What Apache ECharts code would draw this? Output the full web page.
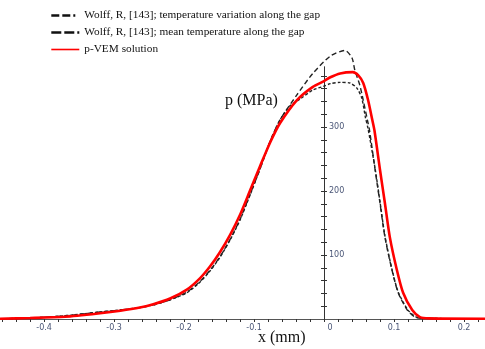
<!DOCTYPE html>
<html>
<head>
<meta charset="utf-8">
<script src="https://cdn.jsdelivr.net/npm/echarts@6/dist/echarts.min.js"></script>
<style>html,body{margin:0;padding:0;background:#fff}#c{width:485px;height:349px}</style>
</head>
<body>
<div id="c"></div>
<script>
// ---- data (x in mm, p in MPa) ----
const seriesNames = [
  'Wolff, R, [143]; temperature variation along the gap',
  'Wolff, R, [143]; mean temperature along the gap',
  'p-VEM solution'
];
const vemX = [-0.463,-0.42,-0.37,-0.32,-0.291,-0.263,-0.244,-0.22,-0.196,-0.177,-0.163,-0.149,-0.134,-0.12,-0.106,-0.091,-0.077,-0.063,-0.039,-0.016,0,0.009,0.023,0.041,0.049,0.056,0.063,0.069,0.072,0.08,0.087,0.094,0.104,0.113,0.126,0.137,0.15,0.23];
const vemP = [0.5,1.5,3.5,9,13,18,23,32,46,64,82,104,132,163,200,240,276,306,342,363,372,378,384,386,381,369,342,311,295,233,181,128,77,41,14,3,1,0.5];

const meanX = [-0.463,-0.42,-0.37,-0.32,-0.291,-0.263,-0.244,-0.22,-0.196,-0.177,-0.163,-0.149,-0.134,-0.12,-0.106,-0.091,-0.077,-0.063,-0.039,-0.016,0.009,0.03,0.04,0.044,0.051,0.056,0.062,0.065,0.073,0.08,0.087,0.097,0.106,0.119,0.13,0.145,0.23];
const meanP = [0.3,1.5,5,11,14,18,22,30,42,59,76,97,125,156,194,236,278,311,350,384,411,420,408,389,366,342,311,295,233,181,128,77,41,14,3,1,0.3];

const varX = [-0.463,-0.42,-0.37,-0.32,-0.291,-0.263,-0.244,-0.22,-0.196,-0.177,-0.163,-0.149,-0.134,-0.12,-0.106,-0.091,-0.077,-0.063,-0.049,-0.034,-0.016,0,0.009,0.023,0.037,0.047,0.054,0.059,0.063,0.073,0.08,0.087,0.097,0.106,0.12,0.132,0.146,0.23];
const varP = [0.3,1.5,5,11,14,18,22,30,41,58,75,96,124,155,193,236,278,311,333,344,358,364,368,370,369,361,345,316,297,235,183,130,78,42,14,3,1,0.3];

const xLabelValues = [-0.4,-0.3,-0.2,-0.1,0,0.1,0.2];
const yLabelValues = [100,200,300];

function zip(xs, ys){ return xs.map((x,i)=>[x, ys[i]]); }
const xTicks = []; for (let i=-23;i<=11;i++) xTicks.push(+(i*0.02).toFixed(2));
const yTicks = []; for (let v=20; v<=380; v+=20) yTicks.push(v);

const chart = echarts.init(document.getElementById('c'), null, {renderer:'canvas'});
const labelColor = '#4a5677';
const X_MIN = -0.463, X_MAX = 0.23, GRID_W = 485;
const yAxisOffset = -Math.round((0 - X_MIN) / (X_MAX - X_MIN) * GRID_W);
chart.setOption({
  animation:false,
  backgroundColor:'#fff',
  grid:{left:0,right:0,top:67,bottom:30,containLabel:false,outerBoundsMode:'none'},
  legend:{
    orient:'vertical', left:45, top:5, itemWidth:28, itemHeight:10, itemGap:6,
    itemStyle:{opacity:0},
    textStyle:{fontFamily:'Liberation Serif', fontSize:11.3, color:'#111'},
    data: [
      {name:seriesNames[0], lineStyle:{width:2.6, type:[8,3,8,3,2,10], color:'#111'}},
      {name:seriesNames[1], lineStyle:{width:2.6, type:[10,3], color:'#111'}},
      {name:seriesNames[2], lineStyle:{width:1.6, color:'#ff0000'}}
    ]
  },
  xAxis:{
    type:'value', min:X_MIN, max:X_MAX,
    axisLine:{onZero:false, lineStyle:{color:'#555', width:1}},
    axisTick:{show:true, length:3, customValues:xTicks, lineStyle:{color:'#333'}},
    axisLabel:{customValues:xLabelValues, color:labelColor, fontSize:8, fontFamily:'DejaVu Sans', margin:5,
      formatter:v=> Math.abs(v)<1e-9 ? '{z|0}' : v.toFixed(1),
      rich:{z:{padding:[0,0,0,12], fontSize:8, color:labelColor, fontFamily:'DejaVu Sans'}}},
    splitLine:{show:false}
  },
  yAxis:[{
    type:'value', min:0, max:394, position:'left', offset:yAxisOffset,
    axisLine:{onZero:false, lineStyle:{color:'#333', width:1}},
    axisTick:{show:true, inside:true, length:3, customValues:yTicks, lineStyle:{color:'#333'}},
    axisLabel:{inside:true, customValues:yLabelValues, color:labelColor, fontSize:8, fontFamily:'DejaVu Sans', margin:5},
    splitLine:{show:false}
  },{
    type:'value', min:0, max:394, position:'left', offset:yAxisOffset,
    axisLine:{onZero:false, lineStyle:{color:'#333', width:1}},
    axisTick:{show:true, inside:false, length:3, customValues:yTicks, lineStyle:{color:'#333'}},
    axisLabel:{show:false},
    splitLine:{show:false}
  }],
  graphic:[
    {type:'text', left:225, top:93, style:{text:'p (MPa)', font:'16px "Liberation Serif"', fill:'#111'}},
    {type:'text', left:258, top:330, style:{text:'x (mm)', font:'16px "Liberation Serif"', fill:'#111'}}
  ],
  series:[
    {name:seriesNames[0], type:'line', data:zip(varX,varP), symbol:'none', showSymbol:false, smooth:0.25, clip:false,
      itemStyle:{color:'#222'}, lineStyle:{color:'#222', width:1.4, type:[3,2]}, z:3},
    {name:seriesNames[1], type:'line', data:zip(meanX,meanP), symbol:'none', showSymbol:false, smooth:0.25, clip:false,
      itemStyle:{color:'#222'}, lineStyle:{color:'#222', width:1.4, type:[5,3]}, z:3},
    {name:seriesNames[2], type:'line', data:zip(vemX,vemP), symbol:'none', showSymbol:false, smooth:0.25, clip:false,
      itemStyle:{color:'#ff0000'}, lineStyle:{color:'#ff0000', width:2.6}, z:4}
  ]
});
</script>
</body>
</html>
